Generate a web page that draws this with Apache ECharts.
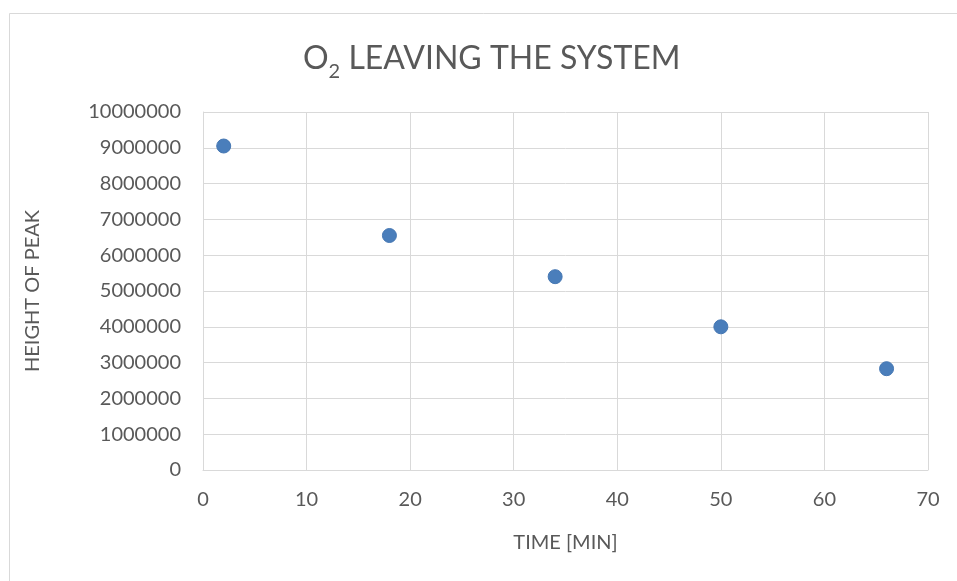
<!DOCTYPE html>
<html>
<head>
<meta charset="utf-8">
<script src="https://cdn.jsdelivr.net/npm/echarts@6/dist/echarts.min.js"></script>
<style>
  html, body { margin: 0; padding: 0; background: #fff; }
  #chart { width: 957px; height: 581px; }
</style>
</head>
<body>
<div id="chart"></div>
<script>
// Peak height of O2 over time
const timeMin = [2, 18, 34, 50, 66];
const peakHeight = [9050000, 6550000, 5400000, 4000000, 2830000];

const textColor = '#595959';
const gridColor = '#d9d9d9';
const fontFamily = 'Lato, "Open Sans", sans-serif';

const chart = echarts.init(document.getElementById('chart'), null, { renderer: 'canvas' });

chart.setOption({
  animation: false,
  backgroundColor: '#ffffff',
  textStyle: { fontFamily: fontFamily },
  graphic: [{
    type: 'rect',
    shape: { x: 9.5, y: 13.5, width: 960, height: 600 },
    style: { fill: 'none', stroke: '#d9d9d9', lineWidth: 1 },
    silent: true
  }],
  title: {
    text: '{a|O}{s|2}{a| LEAVING THE SYSTEM}',
    left: 298,
    top: 38,
    textStyle: {
      fontWeight: 'normal',
      rich: {
        a: { fontSize: 32, lineHeight: 36, color: textColor, fontFamily: fontFamily, fontWeight: 'normal', verticalAlign: 'top' },
        s: { fontSize: 20, lineHeight: 39, color: textColor, fontFamily: fontFamily, fontWeight: 'normal', verticalAlign: 'bottom' }
      }
    }
  },
  grid: { left: 203, right: 29, top: 112, bottom: 111, containLabel: false },
  xAxis: {
    type: 'value',
    min: 0, max: 70, interval: 10,
    name: 'TIME [MIN]',
    nameLocation: 'middle',
    nameGap: 63,
    nameTextStyle: { fontSize: 20, color: textColor, fontFamily: fontFamily },
    axisLine: { show: true, lineStyle: { color: gridColor, width: 1 } },
    axisTick: { show: false },
    axisLabel: { fontSize: 20, color: textColor, margin: 20, fontFamily: fontFamily },
    splitLine: { show: true, lineStyle: { color: gridColor, width: 1 } }
  },
  yAxis: {
    type: 'value',
    min: 0, max: 10000000, interval: 1000000,
    name: 'HEIGHT OF PEAK',
    nameLocation: 'middle',
    nameGap: 160,
    nameTextStyle: { fontSize: 20, color: textColor, fontFamily: fontFamily },
    axisLine: { show: true, lineStyle: { color: gridColor, width: 1 } },
    axisTick: { show: false },
    axisLabel: {
      fontSize: 20, color: textColor, margin: 22, fontFamily: fontFamily,
      formatter: v => String(v)
    },
    splitLine: { show: true, lineStyle: { color: gridColor, width: 1 } }
  },
  series: [{
    type: 'scatter',
    data: timeMin.map((t, i) => [t, peakHeight[i]]),
    symbol: 'circle',
    symbolSize: 14,
    itemStyle: { color: '#4a7ebb', opacity: 1, borderColor: '#4577b3', borderWidth: 1 }
  }]
});
</script>
</body>
</html>
